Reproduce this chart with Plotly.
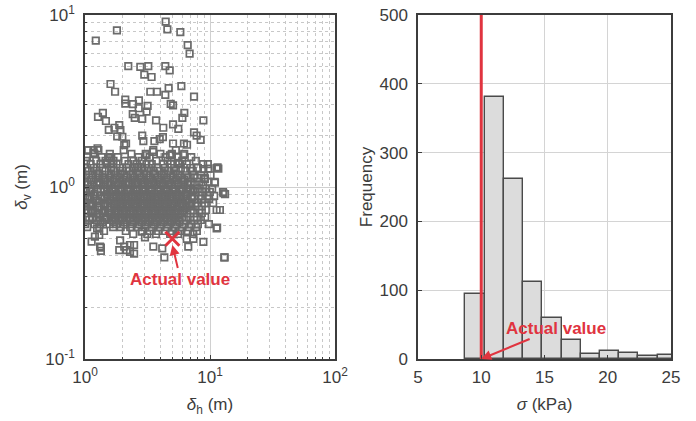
import math
import plotly.graph_objects as go

# ---------------- Left panel: scatter (delta_h, delta_v) ----------------
# sparse upper / outer points
dh_outer = [4.42, 4.56, 1.80, 5.79, 1.22, 6.63, 6.87, 2.22, 2.77, 3.21, 4.39, 4.76, 2.98, 3.41,
            1.60, 5.90, 1.74, 3.33, 3.77, 4.67, 4.39, 7.45, 2.10, 2.10, 2.42, 2.70, 3.17, 4.85,
            5.06, 2.69, 3.11, 6.23, 1.39, 1.27, 2.41, 2.50, 6.01, 2.87, 3.70, 8.85, 1.47, 1.88,
            1.72, 1.55, 5.06, 4.23, 5.58, 1.92, 7.45, 1.81, 1.99, 2.87, 3.96, 3.59, 4.20, 7.82,
            8.42, 2.93, 2.13, 5.06, 6.19, 6.55, 4.94, 4.78, 6.12, 5.58, 1.06, 1.17, 1.26, 2.06,
            1.49, 1.63, 1.58, 2.67, 3.11, 3.50]
dv_outer = [9.14, 8.26, 8.15, 7.96, 7.09, 6.69, 5.96, 5.05, 4.99, 5.05, 5.05, 4.77, 4.50, 4.36,
            3.97, 3.86, 3.58, 3.58, 3.58, 3.76, 3.43, 3.35, 3.22, 3.05, 3.03, 3.19, 2.96, 3.04,
            2.98, 2.87, 2.74, 2.70, 2.70, 2.56, 2.65, 2.52, 2.52, 2.49, 2.44, 2.44, 2.42, 2.29,
            2.21, 2.15, 2.31, 2.21, 2.18, 2.14, 2.08, 1.97, 1.96, 1.99, 1.90, 1.85, 1.95, 1.99,
            1.88, 1.85, 1.79, 1.79, 1.79, 1.76, 1.53, 1.53, 1.53, 1.38, 1.64, 1.58, 1.68, 1.75,
            1.38, 1.37, 1.47, 1.31, 1.53, 1.60]

# points around the right and lower edge of the cloud
dh_edge = [11.4, 13.0, 12.8, 11.5, 9.7, 8.85, 10.96, 9.12, 13.2, 11.66, 11.3, 13.1, 11.3,
           1.25, 1.20, 1.30, 1.13, 1.34, 1.34, 1.91, 1.88, 2.06, 2.15, 2.29, 2.47, 2.47, 2.29,
           3.52, 3.02, 2.84, 4.31, 4.15, 6.51, 7.37, 8.85, 6.70, 1.32]
dv_edge = [0.58, 0.39, 0.92, 1.30, 1.28, 1.27, 1.06, 1.11, 0.91, 1.28, 0.735, 0.39, 0.575,
           0.575, 0.514, 0.526, 0.481, 0.444, 0.425, 0.49, 0.43, 0.45, 0.43, 0.46, 0.46, 0.41, 0.42,
           0.45, 0.51, 0.55, 0.39, 0.44, 0.50, 0.50, 0.48, 0.45, 0.45]

# dense core of the cloud, read row by row (delta_v of the row, delta_h values in the row)
core_dv = [1.64, 1.56, 1.49, 1.42, 1.36, 1.29, 1.24, 1.17, 1.13, 1.07, 1.03, 0.974, 0.935,
           0.887, 0.852, 0.807, 0.775, 0.735, 0.706, 0.669, 0.643, 0.609, 0.585, 0.555, 0.533]
core_dh = [
    [1.05, 1.17, 1.28, 2.04, 3.52, 5.33],
    [1.19, 1.58, 2.35, 3.06, 4.01, 4.95, 6.22],
    [1.04, 1.36, 1.55, 1.83, 2.68, 3.29, 4.40, 5.52, 7.08],
    [1.02, 1.23, 1.46, 1.69, 2.08, 2.44, 2.85, 3.72, 4.58, 6.00, 7.70],
    [1.11, 1.33, 1.51, 1.79, 2.23, 2.60, 3.10, 3.42, 4.23, 4.86, 5.68, 6.52, 8.81, 9.61],
    [1.01, 1.17, 1.38, 1.62, 1.90, 2.15, 2.46, 2.83, 3.24, 3.79, 4.35, 5.17, 5.84, 6.95, 8.00, 11.3],
    [1.07, 1.24, 1.46, 1.70, 1.99, 2.27, 2.63, 3.00, 3.52, 3.96, 4.63, 5.33, 6.34, 7.28],
    [1.02, 1.15, 1.31, 1.54, 1.76, 2.06, 2.32, 2.72, 3.11, 3.65, 4.11, 4.81, 5.53, 6.46, 7.42, 8.50, 10.1],
    [1.08, 1.22, 1.40, 1.60, 1.88, 2.16, 2.49, 2.85, 3.33, 3.82, 4.47, 5.04, 5.89, 6.76, 7.90, 9.08],
    [1.00, 1.17, 1.31, 1.51, 1.73, 1.99, 2.28, 2.63, 3.01, 3.52, 3.96, 4.63, 5.23, 6.10, 7.02, 8.20, 9.60, 10.9],
    [1.06, 1.24, 1.41, 1.62, 1.83, 2.14, 2.40, 2.83, 3.23, 3.72, 4.27, 4.90, 5.62, 6.58, 7.56, 8.82],
    [1.02, 1.13, 1.33, 1.52, 1.75, 1.97, 2.30, 2.64, 3.04, 3.43, 4.00, 4.59, 5.27, 6.05, 6.95, 7.99, 9.32, 10.4],
    [1.09, 1.26, 1.41, 1.65, 1.86, 2.18, 2.45, 2.88, 3.24, 3.79, 4.27, 4.99, 5.72, 6.58, 7.56, 8.66, 9.97, 12.7],
    [1.00, 1.17, 1.35, 1.52, 1.78, 2.00, 2.34, 2.65, 3.10, 3.48, 4.08, 4.58, 5.38, 6.16, 7.08, 8.14, 9.49, 10.8],
    [1.06, 1.22, 1.43, 1.60, 1.88, 2.12, 2.48, 2.79, 3.27, 3.75, 4.31, 4.95, 5.68, 6.52, 7.48, 8.60, 9.85],
    [1.03, 1.14, 1.31, 1.51, 1.73, 1.99, 2.28, 2.62, 3.00, 3.46, 3.96, 4.55, 5.22, 6.00, 6.89, 7.90, 9.09, 10.6],
    [1.08, 1.26, 1.42, 1.63, 1.88, 2.16, 2.48, 2.85, 3.27, 3.75, 4.31, 4.95, 5.67, 6.52, 7.62, 8.60],
    [1.00, 1.16, 1.35, 1.54, 1.76, 2.02, 2.32, 2.67, 3.07, 3.52, 4.04, 4.63, 5.33, 6.10, 7.02, 8.20, 9.26, 12.0],
    [1.06, 1.23, 1.41, 1.62, 1.86, 2.14, 2.46, 2.82, 3.23, 3.70, 4.27, 4.90, 5.62, 6.55, 7.42, 8.60],
    [1.02, 1.15, 1.32, 1.50, 1.73, 1.99, 2.30, 2.60, 3.03, 3.45, 3.97, 4.55, 5.26, 5.96, 6.95, 7.85, 9.15],
    [1.08, 1.24, 1.43, 1.64, 1.86, 2.17, 2.45, 2.87, 3.26, 3.76, 4.30, 4.86, 5.66, 6.43, 7.47, 8.45],
    [1.00, 1.19, 1.33, 1.57, 1.77, 2.04, 2.38, 2.71, 3.06, 3.55, 4.07, 4.60, 5.37, 6.17, 7.08, 8.00, 9.80],
    [1.04, 1.30, 1.68, 1.93, 2.30, 2.65, 3.03, 3.42, 3.99, 4.52, 5.25, 5.98, 6.80, 7.73],
    [1.42, 2.12, 2.86, 3.30, 3.85, 4.38, 4.96, 5.76, 6.65, 7.85],
    [2.43, 3.15, 3.70, 4.80, 5.55, 7.30],
]

# extra points filling the darkest part of the cloud
fill_dv = [1.20, 1.10, 1.05, 0.955, 0.91, 0.87, 0.83, 0.79, 0.755, 0.72, 0.69, 0.655, 0.625]
fill_dh = [
    [1.27, 1.62, 1.93, 2.41, 2.95, 3.58, 4.30, 5.10],
    [1.12, 1.44, 1.69, 2.02, 2.39, 2.78, 3.25, 3.88, 4.52, 5.38, 6.25],
    [1.29, 1.57, 1.86, 2.21, 2.55, 2.93, 3.41, 4.05, 4.72, 5.55, 6.70],
    [1.10, 1.42, 1.66, 1.92, 2.20, 2.55, 2.92, 3.36, 3.85, 4.44, 5.12, 5.95, 7.30],
    [1.19, 1.50, 1.78, 2.07, 2.40, 2.76, 3.15, 3.62, 4.12, 4.78, 5.45, 6.35],
    [1.09, 1.44, 1.68, 1.94, 2.24, 2.55, 2.95, 3.38, 3.88, 4.43, 5.05, 5.90, 7.20],
    [1.25, 1.57, 1.82, 2.10, 2.42, 2.77, 3.17, 3.63, 4.15, 4.75, 5.50, 6.40],
    [1.11, 1.44, 1.70, 1.96, 2.25, 2.58, 2.96, 3.38, 3.88, 4.45, 5.10, 5.95, 7.10],
    [1.28, 1.58, 1.82, 2.11, 2.42, 2.78, 3.15, 3.62, 4.17, 4.80, 5.48, 6.40],
    [1.12, 1.45, 1.72, 1.97, 2.27, 2.60, 2.98, 3.40, 3.90, 4.48, 5.15, 6.00],
    [1.30, 1.60, 1.85, 2.13, 2.45, 2.80, 3.18, 3.65, 4.18, 4.82, 5.55],
    [1.14, 1.48, 1.75, 2.00, 2.30, 2.65, 3.02, 3.45, 3.95, 4.55, 5.25],
    [1.38, 1.70, 2.07, 2.42, 2.82, 3.22, 3.70, 4.25, 4.90, 5.70],
]

actual_dh = 5.0
actual_dv = 0.50

# ---------------- Right panel: histogram of sigma ----------------
bin_left = [8.75, 10.27, 11.79, 13.31, 14.83, 16.35, 17.87, 19.39, 20.91, 22.43, 23.95]
bin_width = 1.52
counts = [94, 381, 261, 112, 60, 27, 8, 11, 9, 4, 6]
actual_sigma = 10.0

# ---------------- styling ----------------
RED = "#e0343f"
GRAY = "#6b6b6b"
AXC = "#3c3c3c"
FONT = "Liberation Sans, Arial, sans-serif"

dh_core, dv_core = [], []
for yv, row in list(zip(core_dv, core_dh)) + list(zip(fill_dv, fill_dh)):
    for xv in row:
        dh_core.append(xv)
        dv_core.append(yv)

dh_all = dh_outer + dh_edge + dh_core
dv_all = dv_outer + dv_edge + dv_core

fig = go.Figure()

fig.add_trace(go.Scatter(
    x=dh_all, y=dv_all, mode="markers", xaxis="x", yaxis="y",
    marker=dict(symbol="square-open", size=6.5, color=GRAY, line=dict(width=1.7, color=GRAY)),
    showlegend=False, hoverinfo="skip"))

fig.add_trace(go.Scatter(
    x=[actual_dh], y=[actual_dv], mode="markers", xaxis="x", yaxis="y",
    marker=dict(symbol="x-thin", size=14, line=dict(width=3, color=RED), color=RED),
    showlegend=False, hoverinfo="skip"))

centers = [b + bin_width / 2 for b in bin_left]
fig.add_trace(go.Bar(
    x=centers, y=counts, width=[bin_width] * len(counts), xaxis="x2", yaxis="y2",
    marker=dict(color="#dcdcdc", line=dict(color="#4a4a4a", width=1.4)),
    showlegend=False, hoverinfo="skip"))

fig.add_trace(go.Scatter(
    x=[actual_sigma, actual_sigma], y=[0, 500], mode="lines", xaxis="x2", yaxis="y2",
    line=dict(color=RED, width=3), showlegend=False, hoverinfo="skip"))

W, H = 696, 421
xd1 = [85 / W, 335 / W]
xd2 = [418 / W, 671 / W]
yd = [(H - 359) / H, (H - 15) / H]

minor_vals = []
for dec in [1, 10]:
    for k in range(2, 10):
        minor_vals.append(k * dec)
minor_vals_y = []
for dec in [0.1, 1]:
    for k in range(2, 10):
        minor_vals_y.append(k * dec)

tickfont = dict(family=FONT, size=17, color=AXC)
titlefont = dict(family=FONT, size=17, color=AXC)

common = dict(showline=True, linecolor=AXC, linewidth=1.5, mirror=True,
              ticks="inside", ticklen=4, tickcolor=AXC, tickfont=tickfont,
              automargin=False, zeroline=False, ticklabeloverflow="allow")

fig.update_layout(
    width=W, height=H,
    margin=dict(l=0, r=0, t=0, b=0),
    paper_bgcolor="white", plot_bgcolor="white",
    font=dict(family=FONT, color=AXC),
    bargap=0,
    hovermode=False,
    xaxis=dict(type="log", domain=xd1, anchor="y", range=[0, 2],
               tickvals=[1, 10, 100], ticktext=["10<sup>0</sup>", "10<sup>1</sup>", "10<sup>2</sup>"],
               showgrid=True, gridcolor="#d0d0d0", gridwidth=1,
               minor=dict(tickvals=minor_vals, showgrid=True, gridcolor="#c8c8c8",
                          griddash="dot", gridwidth=1, ticks="inside", ticklen=2, tickcolor=AXC),
               ticklabelstandoff=2,
               title=dict(text="<i>δ</i><sub>h</sub> (m)", font=titlefont, standoff=12),
               **common),
    yaxis=dict(type="log", domain=yd, anchor="x", range=[-1, 1],
               tickvals=[0.1, 1, 10], ticktext=["10<sup>-1</sup>", "10<sup>0</sup>", "10<sup>1</sup>"],
               showgrid=True, gridcolor="#d0d0d0", gridwidth=1,
               minor=dict(tickvals=minor_vals_y, showgrid=True, gridcolor="#c8c8c8",
                          griddash="dot", gridwidth=1, ticks="inside", ticklen=2, tickcolor=AXC),
               ticklabelstandoff=5,
               title=dict(text="<i>δ</i><sub>v</sub> (m)", font=titlefont, standoff=13),
               **common),
    xaxis2=dict(domain=xd2, anchor="y2", range=[5, 25], tickvals=[5, 10, 15, 20, 25],
                showgrid=True, gridcolor="#d4d4d4", ticklabelstandoff=2,
                title=dict(text="<i>σ</i> (kPa)", font=titlefont, standoff=12),
                **common),
    yaxis2=dict(domain=yd, anchor="x2", range=[0, 500], tickvals=[0, 100, 200, 300, 400, 500],
                showgrid=True, gridcolor="#d4d4d4", ticklabelstandoff=5,
                title=dict(text="Frequency", font=titlefont, standoff=3),
                **common),
)

fig.add_annotation(
    xref="x", yref="y", x=math.log10(actual_dh), y=math.log10(0.46),
    text="<b>Actual value</b>", showarrow=True, arrowhead=2, arrowsize=1, arrowwidth=2,
    arrowcolor=RED, ax=8, ay=34, font=dict(family=FONT, size=17, color=RED))

fig.add_annotation(
    xref="x2", yref="y2", x=actual_sigma, y=0,
    text="<b>Actual value</b>", showarrow=True, arrowhead=2, arrowsize=1, arrowwidth=2,
    arrowcolor=RED, ax=75, ay=-31, font=dict(family=FONT, size=17, color=RED))

# remove the browser's default 8 px page margin so the figure sits at (0, 0)
fig.write_html("out.html", config={"displayModeBar": False},
               post_script="document.body.style.margin='0';")
